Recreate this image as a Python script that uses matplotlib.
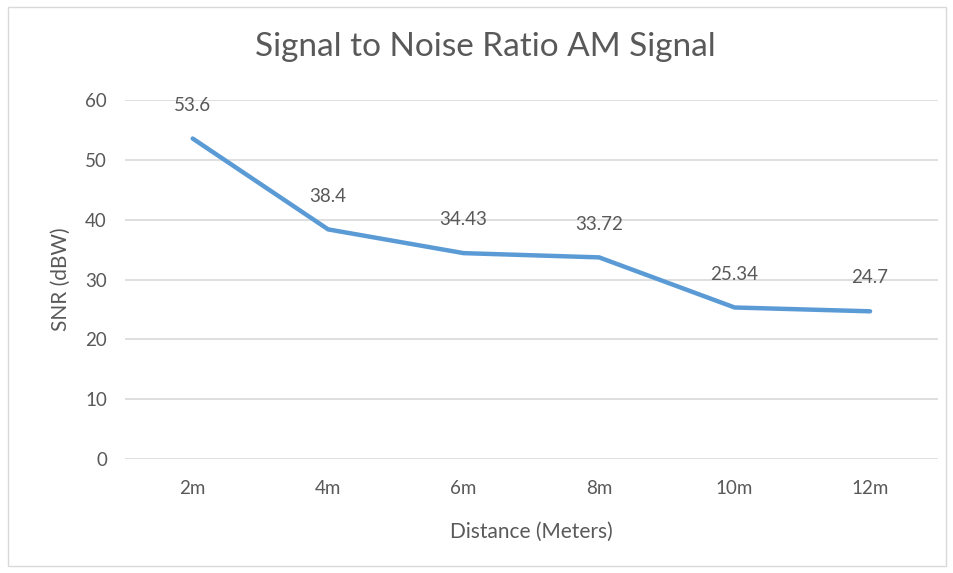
import matplotlib.pyplot as plt
from matplotlib.patches import Rectangle

# SNR measurements for the AM signal at each distance
distances = ["2m", "4m", "6m", "8m", "10m", "12m"]
snr_dbw = [53.6, 38.4, 34.43, 33.72, 25.34, 24.7]
snr_labels = ["53.6", "38.4", "34.43", "33.72", "25.34", "24.7"]

plt.rcParams['font.family'] = ['Lato', 'DejaVu Sans']
text_grey = "#595959"

fig = plt.figure(figsize=(9.54, 5.73), dpi=100)
ax = fig.add_axes([0.131, 0.199, 0.852, 0.626])

x = list(range(len(distances)))
ax.plot(x, snr_dbw, color="#5B9BD5", linewidth=3.2, solid_capstyle="round", zorder=3)

for xi, yi, lab in zip(x, snr_dbw, snr_labels):
    ax.annotate(lab, (xi, yi), xytext=(0, 24), textcoords="offset points",
                ha="center", va="center", fontsize=13.5, color=text_grey)

ax.set_xlim(-0.5, len(distances) - 0.5)
ax.set_ylim(0, 60)
ax.set_yticks(range(0, 61, 10))
ax.set_xticks(x)
ax.set_xticklabels(distances)
ax.grid(axis="y", color="#D9D9D9", linewidth=1.2)
ax.set_axisbelow(True)
for side in ["top", "right", "left", "bottom"]:
    ax.spines[side].set_visible(False)
ax.tick_params(length=0, labelsize=13.5, colors=text_grey)
ax.tick_params(axis="y", pad=13)
ax.tick_params(axis="x", pad=15)

fig.text(0.509, 0.918, "Signal to Noise Ratio AM Signal", fontsize=24,
         color=text_grey, ha="center", va="center")
ax.set_xlabel("Distance (Meters)", fontsize=15, color=text_grey, labelpad=18)
ax.set_ylabel("SNR (dBW)", fontsize=15, color=text_grey, labelpad=10)

# light frame around the chart area
fig.patches.append(Rectangle((0.008, 0.012), 0.984, 0.976, transform=fig.transFigure,
                             fill=False, edgecolor="#D9D9D9", linewidth=1))

fig.savefig("out.png", dpi=100)
